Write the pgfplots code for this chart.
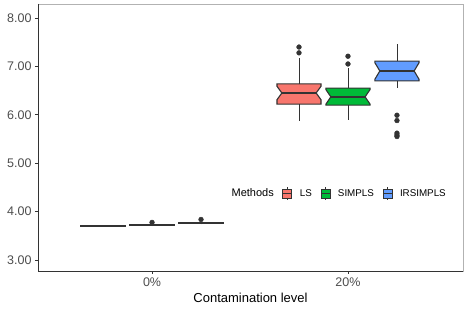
\documentclass[border=0pt]{standalone}
\usepackage{pgfplots}
\pgfplotsset{compat=1.18}
\usepackage{fontspec}
\setmainfont{Liberation Sans}
\definecolor{cLS}{HTML}{F8766D}
\definecolor{cSI}{HTML}{00BA38}
\definecolor{cIR}{HTML}{619CFF}
\definecolor{gtwenty}{HTML}{333333}
\definecolor{gthirty}{HTML}{4D4D4D}
\pgfplotsset{
  bx/.style={draw=gtwenty, line width=1.1pt, forget plot},
  md/.style={gtwenty, line width=1.9pt, forget plot},
  wh/.style={gtwenty, line width=0.9pt, forget plot},
  ol/.style={only marks, mark=*, mark size=2.4pt, gtwenty, forget plot},
}
\begin{document}
\begin{tikzpicture}
\useasboundingbox (0,0) rectangle (469pt,312pt);
\begin{axis}[
  at={(38pt,41pt)}, anchor=south west,
  scale only axis, width=425pt, height=267pt,
  xmin=0.418, xmax=2.587, ymin=2.77, ymax=8.29,
  xtick={1,2}, xticklabels={0\%,20\%},
  ytick={3,4,5,6,7,8},
  yticklabel style={/pgf/number format/.cd, fixed, fixed zerofill, precision=2, assume math mode=true},
  ticklabel style={font=\fontsize{12.5}{14}\selectfont, text=gthirty},
  tick pos=left, tick align=outside, major tick length=3pt,
  tick style={gtwenty, line width=0.7pt},
  axis line style={gray!60, line width=0.7pt},
  xlabel={Contamination level},
  xlabel style={font=\fontsize{13}{15}\selectfont},
  clip=false,
  legend style={at={(rel axis cs:0.701,0.29)}, anchor=center, draw=none, fill=none,
    font=\fontsize{9.8}{11}\selectfont,
    /tikz/every odd column/.append style={column sep=5.5pt},
    /tikz/every even column/.append style={column sep=6.5pt}},
  legend columns=4,
]
% ---------- 20% ----------
% LS
\addplot[bx, fill=cLS] coordinates {
 (1.6375,6.22) (1.6375,6.31) (1.6625,6.45) (1.6375,6.59) (1.6375,6.64)
 (1.8625,6.64) (1.8625,6.59) (1.8375,6.45) (1.8625,6.31) (1.8625,6.22)} -- cycle;
\addplot[md] coordinates {(1.6625,6.45) (1.8375,6.45)};
\addplot[wh] coordinates {(1.75,6.64) (1.75,7.17)};
\addplot[wh] coordinates {(1.75,6.22) (1.75,5.88)};
\addplot[ol] coordinates {(1.75,7.40) (1.75,7.28)};
% SIMPLS
\addplot[bx, fill=cSI] coordinates {
 (1.8875,6.20) (1.8875,6.22) (1.9125,6.37) (1.8875,6.52) (1.8875,6.55)
 (2.1125,6.55) (2.1125,6.52) (2.0875,6.37) (2.1125,6.22) (2.1125,6.20)} -- cycle;
\addplot[md] coordinates {(1.9125,6.37) (2.0875,6.37)};
\addplot[wh] coordinates {(2.0,6.55) (2.0,6.97)};
\addplot[wh] coordinates {(2.0,6.20) (2.0,5.89)};
\addplot[ol] coordinates {(2.0,7.21) (2.0,7.05)};
% IRSIMPLS
\addplot[bx, fill=cIR] coordinates {
 (2.1375,6.70) (2.1375,6.735) (2.1625,6.905) (2.1375,7.075) (2.1375,7.11)
 (2.3625,7.11) (2.3625,7.075) (2.3375,6.905) (2.3625,6.735) (2.3625,6.70)} -- cycle;
\addplot[md] coordinates {(2.1625,6.905) (2.3375,6.905)};
\addplot[wh] coordinates {(2.25,7.11) (2.25,7.46)};
\addplot[wh] coordinates {(2.25,6.70) (2.25,6.55)};
\addplot[ol] coordinates {(2.25,5.99) (2.25,5.88) (2.25,5.62) (2.25,5.58) (2.25,5.55)};
% ---------- 0% ----------
\addplot[bx, fill=cLS] coordinates {
 (0.6375,3.695) (0.6375,3.705) (0.8625,3.705) (0.8625,3.695)} -- cycle;
\addplot[md] coordinates {(0.6375,3.70) (0.8625,3.70)};
\addplot[wh] coordinates {(0.75,3.68) (0.75,3.72)};
\addplot[bx, fill=cSI] coordinates {
 (0.8875,3.713) (0.8875,3.727) (1.1125,3.727) (1.1125,3.713)} -- cycle;
\addplot[md] coordinates {(0.8875,3.72) (1.1125,3.72)};
\addplot[wh] coordinates {(1.0,3.70) (1.0,3.745)};
\addplot[ol] coordinates {(1.0,3.775)};
\addplot[bx, fill=cIR] coordinates {
 (1.1375,3.75) (1.1375,3.765) (1.3625,3.765) (1.3625,3.75)} -- cycle;
\addplot[md] coordinates {(1.1375,3.757) (1.3625,3.757)};
\addplot[wh] coordinates {(1.25,3.735) (1.25,3.785)};
\addplot[ol] coordinates {(1.25,3.835)};
% axis lines
\draw[gtwenty, line width=0.8pt] (rel axis cs:0,1) -- (rel axis cs:0,0) -- (rel axis cs:1,0);
% legend
\addlegendimage{empty legend}
\addlegendentry{\fontsize{11}{13}\selectfont Methods}
\addlegendimage{legend image code/.code={
  \draw[fill=cLS, draw=gtwenty, line width=0.8pt] (0pt,-4.5pt) rectangle (9pt,4.5pt);
  \draw[gtwenty, line width=1.1pt] (0pt,0pt) -- (9pt,0pt);
  \draw[gtwenty, line width=0.8pt] (4.5pt,4.5pt) -- (4.5pt,6.8pt) (4.5pt,-4.5pt) -- (4.5pt,-6.8pt);}}
\addlegendentry{LS}
\addlegendimage{legend image code/.code={
  \draw[fill=cSI, draw=gtwenty, line width=0.8pt] (0pt,-4.5pt) rectangle (9pt,4.5pt);
  \draw[gtwenty, line width=1.1pt] (0pt,0pt) -- (9pt,0pt);
  \draw[gtwenty, line width=0.8pt] (4.5pt,4.5pt) -- (4.5pt,6.8pt) (4.5pt,-4.5pt) -- (4.5pt,-6.8pt);}}
\addlegendentry{SIMPLS}
\addlegendimage{legend image code/.code={
  \draw[fill=cIR, draw=gtwenty, line width=0.8pt] (0pt,-4.5pt) rectangle (9pt,4.5pt);
  \draw[gtwenty, line width=1.1pt] (0pt,0pt) -- (9pt,0pt);
  \draw[gtwenty, line width=0.8pt] (4.5pt,4.5pt) -- (4.5pt,6.8pt) (4.5pt,-4.5pt) -- (4.5pt,-6.8pt);}}
\addlegendentry{IRSIMPLS}
\end{axis}
\end{tikzpicture}
\end{document}
